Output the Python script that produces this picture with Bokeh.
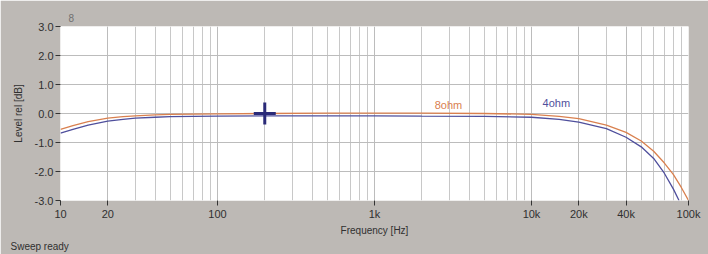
from bokeh.plotting import figure
from bokeh.models import FixedTicker, NumeralTickFormatter, Label, Range1d, Title
from bokeh.embed import file_html
from bokeh.resources import INLINE

# data
freq_8 = [10, 12, 15, 20, 25, 30, 40, 50, 70, 100, 200, 500, 1000, 2000, 5000,
          10000, 15000, 20000, 30000, 40000, 50000, 60000, 70000, 80000, 90000, 100000]
level_8 = [-0.55, -0.42, -0.28, -0.16, -0.11, -0.08, -0.05, -0.03, -0.02, -0.01, 0.0, 0.01, 0.01, 0.01, 0.0,
           -0.03, -0.1, -0.18, -0.4, -0.65, -0.95, -1.3, -1.7, -2.1, -2.55, -3.0]
freq_4 = [10, 12, 15, 20, 25, 30, 40, 50, 70, 100, 200, 500, 1000, 2000, 5000,
          10000, 15000, 20000, 30000, 40000, 50000, 60000, 70000, 80000, 87000]
level_4 = [-0.68, -0.55, -0.4, -0.26, -0.2, -0.16, -0.13, -0.11, -0.1, -0.09, -0.08, -0.08, -0.08, -0.09, -0.1,
           -0.13, -0.2, -0.3, -0.52, -0.82, -1.15, -1.55, -2.05, -2.6, -3.0]
x_ticks = [10, 20, 100, 1000, 10000, 20000, 40000, 100000]
x_tick_labels = ["10", "20", "100", "1k", "10k", "20k", "40k", "100k"]
y_ticks = [-3, -2, -1, 0, 1, 2, 3]
cursor_f = [200]
cursor_l = [0.0]

minor = [m * 10 ** e for e in range(1, 5) for m in range(2, 10)]

BG = "#bdb9b5"
FONT = "Liberation Sans"

p = figure(width=708, height=254, x_axis_type="log", output_backend="svg",
           toolbar_location=None, x_range=Range1d(10, 100000), y_range=Range1d(-3, 3),
           min_border_left=60, min_border_right=20, min_border_top=26, min_border_bottom=54)
p.border_fill_color = BG
p.background_fill_color = "white"
p.outline_line_color = None

p.xaxis.ticker = FixedTicker(ticks=x_ticks, minor_ticks=minor)
p.xaxis.major_label_overrides = {t: s for t, s in zip(x_ticks, x_tick_labels)}
p.yaxis.ticker = FixedTicker(ticks=y_ticks)
p.yaxis.formatter = NumeralTickFormatter(format="0.0")

for ax in (p.xaxis[0], p.yaxis[0]):
    ax.axis_line_color = None
    ax.major_tick_line_color = "#333333"
    ax.major_tick_in = 0
    ax.major_tick_out = 5
    ax.minor_tick_line_color = None
    ax.major_label_text_font = FONT
    ax.major_label_text_font_size = "11px"
    ax.major_label_text_color = "#303030"
    ax.axis_label_text_font = FONT
    ax.axis_label_text_font_size = "10px"
    ax.axis_label_text_font_style = "normal"
    ax.axis_label_text_color = "#303030"

p.xaxis.axis_label = "Frequency [Hz]"
p.yaxis.axis_label = "Level rel [dB]"
p.xaxis.major_label_standoff = 2
p.xaxis.axis_label_standoff = 2
p.yaxis.major_label_standoff = 2
p.yaxis.axis_label_standoff = 8

p.xgrid.grid_line_color = "#bcbcbc"
p.xgrid.minor_grid_line_color = "#c8c8c8"
p.ygrid.grid_line_color = "#bcbcbc"

p.line(freq_8, level_8, line_color="#d9804f", line_width=1.3)
p.line(freq_4, level_4, line_color="#4f4f9c", line_width=1.3)

p.scatter(cursor_f, cursor_l, marker="cross", size=22, line_width=3, line_color="#2a2a78")

p.add_layout(Label(x=2960, y=0.07, text="8ohm", text_color="#d9804f", text_font=FONT,
                   text_font_size="11px", text_align="center"))
p.add_layout(Label(x=14400, y=0.15, text="4ohm", text_color="#4f4f9c", text_font=FONT,
                   text_font_size="11px", text_align="center"))

p.add_layout(Title(text="Sweep ready", align="left", offset=-50, text_font=FONT,
                   text_font_size="10px", text_font_style="normal", text_color="#303030",
                   standoff=0), "below")
p.add_layout(Title(text="8", align="left", offset=8, text_font=FONT,
                   text_font_size="10px", text_font_style="normal", text_color="#707070",
                   standoff=10), "above")

open("out.html", "w").write(file_html(p, INLINE))
